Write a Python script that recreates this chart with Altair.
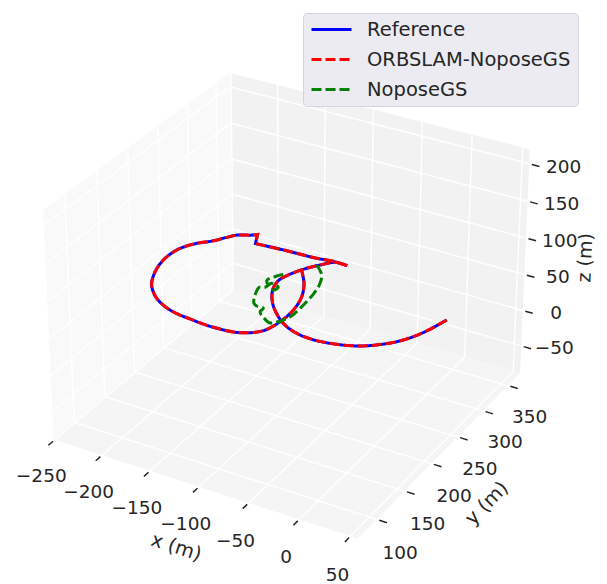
import math
import altair as alt
import pandas as pd

# ---------------- data (metres) ----------------
SERIES = ["Reference", "ORBSLAM-NoposeGS", "NoposeGS"]

ref_x = [42.2, 37.0, 30.4, 22.0, 9.7, -4.4, -20.6, -38.5, -55.7, -72.7, -87.6,
         -103.7, -115.5, -119.5, -117.0, -110.5, -101.4, -92.1, -79.5, -79.5, -94.4,
         -110.0, -140.6, -171.8, -171.8, -178.8, -178.8, -182.9, -194.7, -200.5, -207.7, -220.3,
         -227.5, -228.2, -223.2, -213.1, -196.6, -175.6, -152.3, -127.2, -102.6,
         -86.8, -82.0, -82.0, -87.3, -97.4, -110.5]
ref_y = [251.2, 229.7, 211.5, 196.9, 183.5, 173.4, 167.3, 164.0, 165.1, 171.5, 182.7,
         200.3, 220.5, 237.4, 250.7, 266.4, 280.7, 291.7, 291.9, 291.9, 292.6,
         290.0, 288.6, 285.9, 285.9, 301.5, 301.5, 297.9, 291.1, 282.9, 271.3, 256.8,
         239.9, 218.1, 196.2, 174.4, 156.7, 145.2, 140.8, 138.8, 142.5,
         155.6, 175.9, 199.2, 223.1, 244.8, 263.5]
ref_z = [65, 65, 65, 65, 65, 65, 65, 65, 65, 65, 65,
         65, 65, 65, 65, 65, 65, 65, 65, 65, 65,
         65, 65, 65, 65, 65, 65, 65, 65, 65, 65, 65,
         65, 65, 65, 65, 65, 65, 65, 65, 65,
         65, 65, 65, 65, 65, 65]

orb_x = [42.2, 37.0, 30.4, 22.0, 9.7, -4.4, -20.6, -38.5, -55.7, -72.7, -87.6,
         -103.7, -115.5, -119.5, -117.0, -110.5, -101.4, -92.1, -79.5, -79.5, -94.4,
         -110.0, -140.6, -171.8, -171.8, -178.8, -178.8, -182.9, -194.7, -200.5, -207.7, -220.3,
         -227.5, -228.2, -223.2, -213.1, -196.6, -175.6, -152.3, -127.2, -102.6,
         -86.8, -82.0, -82.0, -87.3, -97.4, -110.5]
orb_y = [251.2, 229.7, 211.5, 196.9, 183.5, 173.4, 167.3, 164.0, 165.1, 171.5, 182.7,
         200.3, 220.5, 237.4, 250.7, 266.4, 280.7, 291.7, 291.9, 291.9, 292.6,
         290.0, 288.6, 285.9, 285.9, 301.5, 301.5, 297.9, 291.1, 282.9, 271.3, 256.8,
         239.9, 218.1, 196.2, 174.4, 156.7, 145.2, 140.8, 138.8, 142.5,
         155.6, 175.9, 199.2, 223.1, 244.8, 263.5]
orb_z = [65, 65, 65, 65, 65, 65, 65, 65, 65, 65, 65,
         65, 65, 65, 65, 65, 65, 65, 65, 65, 65,
         65, 65, 65, 65, 65, 65, 65, 65, 65, 65, 65,
         65, 65, 65, 65, 65, 65, 65, 65, 65,
         65, 65, 65, 65, 65, 65]

nop_x = [-103.9, -91.1, -84.1, -80.9, -79.2, -78.4, -78.2, -80.3, -84.2, -89.2,
         -98.5, -105.8, -106.3, -113.4, -117.9, -124.5, -128.2, -123.8, -122.3,
         -113.6, -115.0, -128.5, -125.0, -119.2]
nop_y = [279.3, 265.7, 249.0, 233.8, 217.6, 204.8, 191.5, 181.8, 174.1, 169.8,
         175.3, 182.1, 188.7, 189.2, 192.0, 205.1, 218.8, 221.3, 230.5,
         227.2, 220.9, 232.3, 244.0, 251.6]
nop_z = [65, 65, 65, 65, 65, 65, 65, 65, 65, 65,
         65, 65, 65, 65, 65, 65, 65, 65, 65,
         65, 65, 65, 65, 65]

x_ticks = [-250, -200, -150, -100, -50, 0, 50]
y_ticks = [100, 150, 200, 250, 300, 350]
z_ticks = [-50, 0, 50, 100, 150, 200]
x_lim = [-251.0, 57.0]
y_lim = [67.0, 375.0]
z_lim = [-89.0, 219.0]

# ---------------- view / projection setup ----------------
ELEV, AZIM, DIST = 30.0, -60.0, 10.0
W, H = 591, 576
CX, CY, SCALE = 283.0, 287.0, 3050.0

e = math.radians(ELEV)
a = math.radians(AZIM)
wv = (math.cos(e) * math.cos(a), math.cos(e) * math.sin(a), math.sin(e))
nn = math.hypot(wv[0], wv[1])
uv = (-wv[1] / nn, wv[0] / nn, 0.0)
vv = (wv[1] * uv[2] - wv[2] * uv[1], wv[2] * uv[0] - wv[0] * uv[2], wv[0] * uv[1] - wv[1] * uv[0])
asp = [4.0, 4.0, 3.0]
na = math.sqrt(sum(c * c for c in asp))
pb = [c * 1.8294640721620434 / na for c in asp]
lims = [x_lim, y_lim, z_lim]
cen = [(l[0] + l[1]) / 2 for l in lims]
rng = [l[1] - l[0] for l in lims]


def proj(ch):
    return (ch.transform_calculate(qx=f"(datum.X-({cen[0]}))/{rng[0]}*{pb[0]}")
              .transform_calculate(qy=f"(datum.Y-({cen[1]}))/{rng[1]}*{pb[1]}")
              .transform_calculate(qz=f"(datum.Z-({cen[2]}))/{rng[2]}*{pb[2]}")
              .transform_calculate(den=f"{DIST}-(({wv[0]})*datum.qx+({wv[1]})*datum.qy+({wv[2]})*datum.qz)")
              .transform_calculate(px=f"(({uv[0]})*datum.qx+({uv[1]})*datum.qy)/datum.den")
              .transform_calculate(py=f"(({vv[0]})*datum.qx+({vv[1]})*datum.qy+({vv[2]})*datum.qz)/datum.den"))


XD = [-CX / SCALE, (W - CX) / SCALE]
YD = [(CY - H) / SCALE, CY / SCALE]
XE = alt.X("px:Q", scale=alt.Scale(domain=XD, nice=False, zero=False), axis=None)
YE = alt.Y("py:Q", scale=alt.Scale(domain=YD, nice=False, zero=False), axis=None)

X0, X1 = x_lim
Y0, Y1 = y_lim
Z0, Z1 = z_lim
FONT = "DejaVu Sans"
TXT = "#262626"

# panes
pane_defs = [
    ("xp", "#f9f9f9", [(X0, Y0, Z0), (X0, Y1, Z0), (X0, Y1, Z1), (X0, Y0, Z1)]),
    ("yp", "#f2f2f2", [(X0, Y1, Z0), (X1, Y1, Z0), (X1, Y1, Z1), (X0, Y1, Z1)]),
    ("zp", "#f5f5f5", [(X0, Y0, Z0), (X1, Y0, Z0), (X1, Y1, Z0), (X0, Y1, Z0)]),
]
prow = []
for pid, col, pts in pane_defs:
    for k, (px_, py_, pz_) in enumerate(pts):
        prow.append({"pane": pid, "col": col, "k": k, "X": px_, "Y": py_, "Z": pz_})
panes = proj(alt.Chart(pd.DataFrame(prow))).mark_line(strokeWidth=0, strokeOpacity=0).encode(
    XE, YE, order="k:Q", detail="pane:N", fill=alt.Fill("col:N", scale=None))

# grid lines
segs = []
for t in x_ticks:
    segs.append(((t, Y0, Z0), (t, Y1, Z0)))
    segs.append(((t, Y1, Z0), (t, Y1, Z1)))
for t in y_ticks:
    segs.append(((X0, t, Z0), (X1, t, Z0)))
    segs.append(((X0, t, Z0), (X0, t, Z1)))
for t in z_ticks:
    segs.append(((X0, Y0, t), (X0, Y1, t)))
    segs.append(((X0, Y1, t), (X1, Y1, t)))
grow = []
for g, (p, q) in enumerate(segs):
    grow.append({"g": g, "k": 0, "X": p[0], "Y": p[1], "Z": p[2]})
    grow.append({"g": g, "k": 1, "X": q[0], "Y": q[1], "Z": q[2]})
grid = proj(alt.Chart(pd.DataFrame(grow))).mark_line(color="white", strokeWidth=1.4).encode(
    XE, YE, order="k:Q", detail="g:N")

# tick marks
T1, T2 = 2.5, 10.0
tsegs = []
for t in x_ticks:
    tsegs.append(((t, Y0 - T1, Z0), (t, Y0 - T2, Z0)))
for t in y_ticks:
    tsegs.append(((X1 + T1, t, Z0), (X1 + T2, t, Z0)))
for t in z_ticks:
    tsegs.append(((X1 + T1, Y1, t), (X1 + T2, Y1, t)))
trow = []
for g, (p, q) in enumerate(tsegs):
    trow.append({"g": g, "k": 0, "X": p[0], "Y": p[1], "Z": p[2]})
    trow.append({"g": g, "k": 1, "X": q[0], "Y": q[1], "Z": q[2]})
ticks = proj(alt.Chart(pd.DataFrame(trow))).mark_line(color=TXT, strokeWidth=1.5).encode(
    XE, YE, order="k:Q", detail="g:N")


def lab(v):
    return str(v).replace("-", "\u2212")


L = 29.0
xl = pd.DataFrame({"X": x_ticks, "Y": [Y0 - L] * len(x_ticks), "Z": [Z0 - L] * len(x_ticks),
                   "t": [lab(v) for v in x_ticks]})
yl = pd.DataFrame({"X": [X1 + L] * len(y_ticks), "Y": y_ticks, "Z": [Z0 - L] * len(y_ticks),
                   "t": [lab(v) for v in y_ticks]})
zl = pd.DataFrame({"X": [X1 + L] * len(z_ticks), "Y": [Y1 + L] * len(z_ticks), "Z": z_ticks,
                   "t": [lab(v) for v in z_ticks]})


def tick_text(df, dx, dy):
    return proj(alt.Chart(df)).mark_text(font=FONT, fontSize=18.5, color=TXT, align="center",
                                         baseline="middle", dx=dx, dy=dy).encode(XE, YE, text="t:N")


xlab = tick_text(xl, 4, 0)
ylab = tick_text(yl, -6, 2.5)
zlab = tick_text(zl, -9.5, 8.5)

# axis titles: (anchor X, Y, Z, text, angle, screen offset x, screen offset y, size)
title_defs = [
    (cen[0], Y0 - 40, Z0 - 40, "x (m)", 18.0, -2.0, 8.0, 19.5),
    (X1 + 40, cen[1], Z0 - 40, "y (m)", 314.4, 5.0, 10.0, 19.5),
    (X1 + 40, Y1 + 40, cen[2], "z (m)", 272.5, 1.0, 2.0, 19.0),
]
title_layers = []
for (tx, ty, tz, tt, ang, ox, oy, fs) in title_defs:
    th = math.radians(ang)
    ddx = ox * math.cos(th) + oy * math.sin(th)
    ddy = -ox * math.sin(th) + oy * math.cos(th)
    df = pd.DataFrame({"X": [tx], "Y": [ty], "Z": [tz], "t": [tt]})
    title_layers.append(
        proj(alt.Chart(df)).mark_text(
            font=FONT, fontSize=fs, color=TXT, align="center", baseline="middle",
            angle=ang, dx=ddx, dy=ddy
        ).encode(XE, YE, text="t:N"))

# trajectories
leg = alt.Legend(title=None, orient="none", legendX=295, legendY=5, fillColor="#ebebf1",
                 strokeColor="#d4d4da", cornerRadius=4, padding=7, symbolType="stroke",
                 symbolSize=1600, symbolStrokeWidth=3, labelFont=FONT, labelFontSize=19.5,
                 labelColor=TXT, labelOffset=14, rowPadding=10, clipHeight=19, labelLimit=400)
cscale = alt.Scale(domain=SERIES, range=["#0000ff", "#ff0000", "#008000"])
dscale = alt.Scale(domain=SERIES, range=[[1, 0], [10, 4], [10, 4]])


def traj(name, xs, ys, zs):
    df = pd.DataFrame({"series": name, "i": list(range(len(xs))), "X": xs, "Y": ys, "Z": zs})
    return proj(alt.Chart(df)).mark_line(strokeWidth=3, interpolate="catmull-rom").encode(
        XE, YE, order="i:Q",
        color=alt.Color("series:N", scale=cscale, legend=leg),
        strokeDash=alt.StrokeDash("series:N", scale=dscale, legend=leg))


t_ref = traj(SERIES[0], ref_x, ref_y, ref_z)
t_orb = traj(SERIES[1], orb_x, orb_y, orb_z)
t_nop = traj(SERIES[2], nop_x, nop_y, nop_z)

chart = alt.layer(panes, grid, ticks, xlab, ylab, zlab, *title_layers, t_ref, t_orb, t_nop).properties(
    width=W, height=H, padding=0, autosize="none", background="white"
).configure_view(stroke=None)

chart.save("out.html", embed_options={"renderer": "svg", "actions": False})
